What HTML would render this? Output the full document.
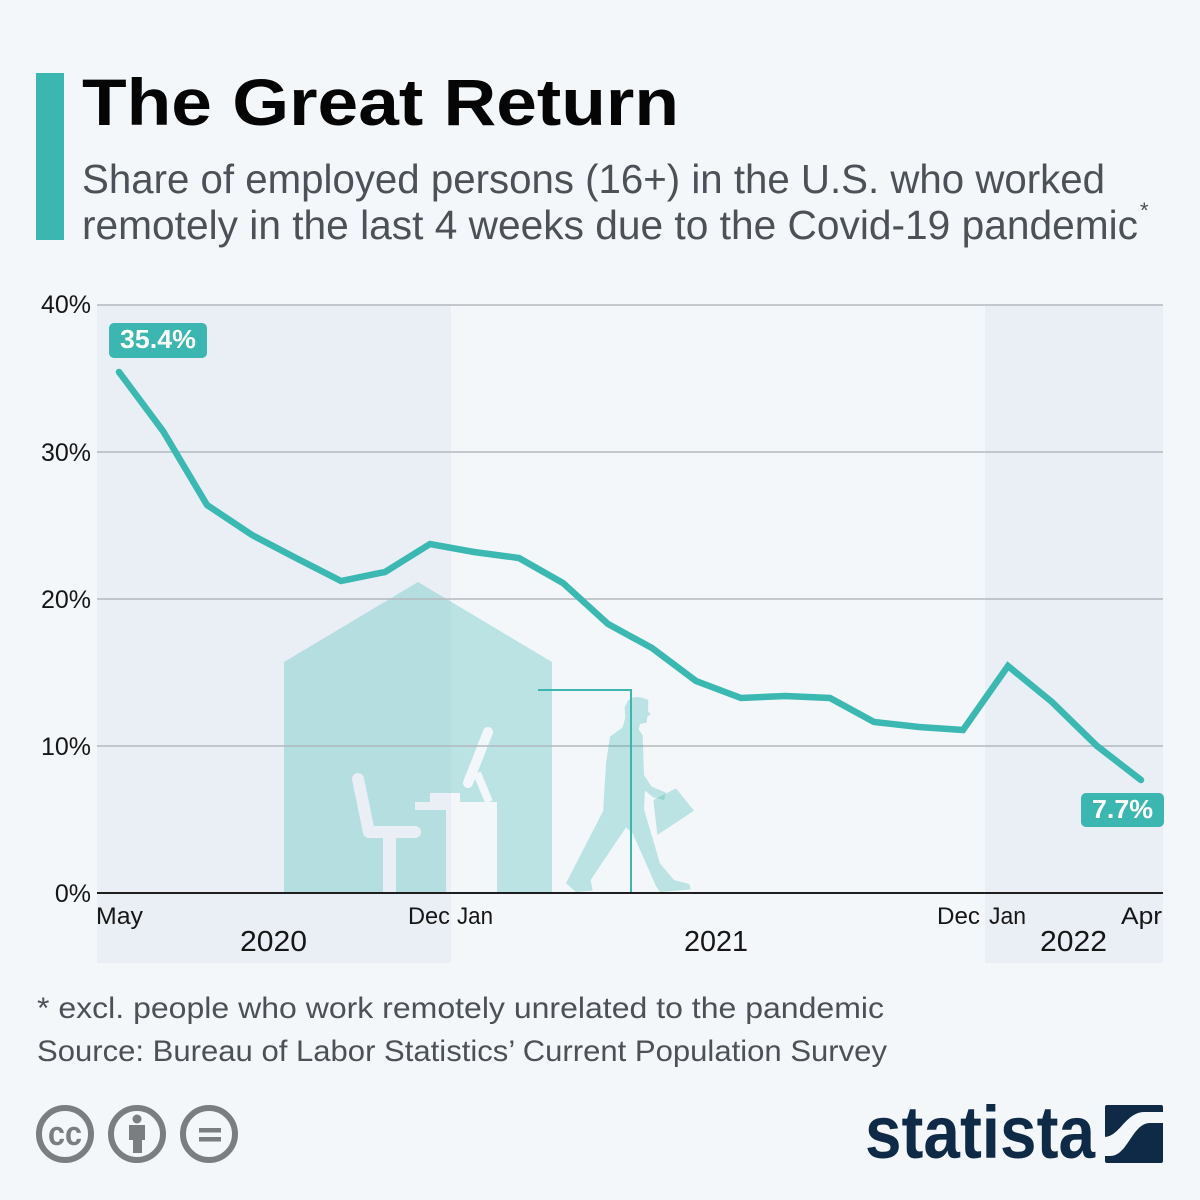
<!DOCTYPE html>
<html>
<head>
<meta charset="utf-8">
<style>
  html,body{margin:0;padding:0;background:#f3f7fa;}
  svg{display:block;}
  text{font-family:"Liberation Sans",sans-serif;}
</style>
</head>
<body>
<svg width="1200" height="1200" viewBox="0 0 1200 1200" xmlns="http://www.w3.org/2000/svg">
  <defs>
    <mask id="houseMask" maskUnits="userSpaceOnUse" x="0" y="0" width="1200" height="1200">
      <rect x="0" y="0" width="1200" height="1200" fill="#fff"/>
      <line x1="358" y1="779" x2="369" y2="832" stroke="#000" stroke-width="12" stroke-linecap="round"/>
      <line x1="369" y1="832" x2="415" y2="832" stroke="#000" stroke-width="12" stroke-linecap="round"/>
      <rect x="383" y="832" width="13" height="61" fill="#000"/>
      <rect x="415" y="802" width="82" height="8" fill="#000"/>
      <rect x="430" y="793" width="30" height="10" fill="#000"/>
      <rect x="446" y="802" width="51" height="91" fill="#000"/>
      <line x1="477" y1="773" x2="489" y2="802" stroke="#000" stroke-width="8"/>
      <line x1="468" y1="783" x2="488" y2="732" stroke="#000" stroke-width="10" stroke-linecap="round"/>
    </mask>
  </defs>

  <rect x="0" y="0" width="1200" height="1200" fill="#f3f7fa"/>

  <rect x="36" y="73" width="28" height="167" fill="#3bb6b0"/>
  <text x="82" y="125" font-size="66" font-weight="bold" fill="#050505" textLength="597" lengthAdjust="spacingAndGlyphs">The Great Return</text>
  <text x="82" y="193" font-size="41" fill="#4b5156" textLength="1023" lengthAdjust="spacingAndGlyphs">Share of employed persons (16+) in the U.S. who worked</text>
  <text x="82" y="239" font-size="41" fill="#4b5156" textLength="1056" lengthAdjust="spacingAndGlyphs">remotely in the last 4 weeks due to the Covid-19 pandemic</text>
  <text x="1140" y="218" font-size="22" fill="#4b5156">*</text>

  <rect x="97" y="305" width="354" height="658" fill="#eaeff6"/>
  <rect x="985" y="305" width="178" height="658" fill="#eaeff6"/>

  <polygon points="284,662 418,582 552,662 552,893 284,893" fill="#3bb6b0" fill-opacity="0.3" mask="url(#houseMask)"/>

  <g stroke="#b3b8be" stroke-width="1.5">
    <line x1="97" y1="305" x2="1163" y2="305"/>
    <line x1="97" y1="452" x2="1163" y2="452"/>
    <line x1="97" y1="599" x2="1163" y2="599"/>
    <line x1="97" y1="746" x2="1163" y2="746"/>
  </g>

  <!-- walking man -->
  <g transform="translate(270,570) scale(0.33333)" fill="#3bb6b0" fill-opacity="0.3">
    <path d="M1070,400 C1075,382 1100,374 1135,390 L1134,424 L1142,432 L1132,440 L1130,458 L1110,462 L1106,478 L1118,496 L1122,615 L1145,650 L1188,668 L1182,690 L1150,682 L1125,662 L1122,718 L1170,880 L1212,930 L1258,942 L1262,958 L1170,966 L1158,948 L1088,790 L1068,772 L962,930 L968,962 L918,966 L888,940 L896,924 L1000,722 L1000,712 L1008,580 L1020,500 L1058,472 L1066,442 L1064,412 Z"/>
    <polygon points="1150,690 1218,655 1272,722 1162,795"/>
  </g>

  <polyline points="538,690 631,690 631,893" fill="none" stroke="#3bb6b0" stroke-width="2"/>

  <line x1="97" y1="893" x2="1163" y2="893" stroke="#1e1e1e" stroke-width="2"/>

  <polyline fill="none" stroke="#3bb8b1" stroke-width="6.5" stroke-linejoin="miter" stroke-linecap="round"
    points="119,372 163,431 207,505 252,535 296,558 341,581 385,572 430,544 474,552 519,558 563,583 608,624 652,648 696,681 741,698 785,696 830,698 874,722 919,727 963,730 1008,666 1052,702 1097,746 1141,780"/>

  <rect x="109" y="323" width="98" height="35" rx="5" fill="#3bb6b0"/>
  <text x="120" y="348" font-size="26" font-weight="bold" fill="#ffffff" textLength="76" lengthAdjust="spacingAndGlyphs">35.4%</text>
  <rect x="1081" y="793" width="83" height="34" rx="5" fill="#3bb6b0"/>
  <text x="1092" y="818" font-size="26" font-weight="bold" fill="#ffffff" textLength="61" lengthAdjust="spacingAndGlyphs">7.7%</text>

  <g font-size="25" fill="#161616" text-anchor="end">
    <text x="91" y="313">40%</text>
    <text x="91" y="461">30%</text>
    <text x="91" y="608">20%</text>
    <text x="91" y="755">10%</text>
    <text x="91" y="902">0%</text>
  </g>

  <g font-size="24" fill="#161616">
    <text x="96" y="924" textLength="47" lengthAdjust="spacingAndGlyphs">May</text>
    <text x="408" y="924" textLength="42" lengthAdjust="spacingAndGlyphs">Dec</text>
    <text x="457" y="924" textLength="36" lengthAdjust="spacingAndGlyphs">Jan</text>
    <text x="937" y="924" textLength="43" lengthAdjust="spacingAndGlyphs">Dec</text>
    <text x="989" y="924" textLength="37" lengthAdjust="spacingAndGlyphs">Jan</text>
    <text x="1121" y="924" textLength="41" lengthAdjust="spacingAndGlyphs">Apr</text>
  </g>
  <g font-size="29" fill="#161616">
    <text x="240" y="951" textLength="67" lengthAdjust="spacingAndGlyphs">2020</text>
    <text x="684" y="951" textLength="64" lengthAdjust="spacingAndGlyphs">2021</text>
    <text x="1040" y="951" textLength="67" lengthAdjust="spacingAndGlyphs">2022</text>
  </g>

  <text x="37" y="1018" font-size="30" fill="#4b5156" textLength="847" lengthAdjust="spacingAndGlyphs">* excl. people who work remotely unrelated to the pandemic</text>
  <text x="37" y="1061" font-size="30" fill="#4b5156" textLength="850" lengthAdjust="spacingAndGlyphs">Source: Bureau of Labor Statistics’ Current Population Survey</text>

  <g fill="none" stroke="#7a7e81" stroke-width="6">
    <circle cx="65" cy="1134" r="26"/>
    <circle cx="137" cy="1134" r="26"/>
    <circle cx="209" cy="1134" r="26"/>
  </g>
  <text x="48" y="1145" font-size="34" font-weight="bold" fill="#7a7e81" textLength="34" lengthAdjust="spacingAndGlyphs">cc</text>
  <circle cx="137" cy="1119" r="4.5" fill="#7a7e81"/>
  <rect x="129" y="1125" width="16" height="15" fill="#7a7e81"/>
  <rect x="133" y="1138" width="9" height="15" fill="#7a7e81"/>
  <rect x="199" y="1128" width="22" height="4.5" fill="#7a7e81"/>
  <rect x="199" y="1137" width="22" height="4.5" fill="#7a7e81"/>

  <text x="865" y="1158" font-size="74" font-weight="bold" fill="#0f2a46" style="font-family:'Liberation Sans Narrow','Liberation Sans',sans-serif" textLength="230" lengthAdjust="spacingAndGlyphs">statista</text>
  <rect x="1105" y="1105" width="58" height="58" rx="2" fill="#0f2a46"/>
  <path d="M1104,1137 C1120,1137 1125,1112 1145,1112 L1164,1112 L1164,1123 L1150,1123 C1132,1123 1128,1156 1110,1156 L1104,1156 Z" fill="#f3f7fa"/>
</svg>
</body>
</html>
